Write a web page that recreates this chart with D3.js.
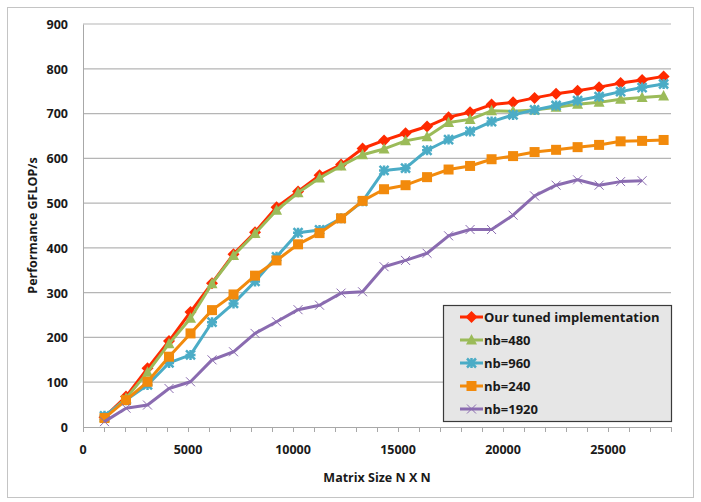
<!DOCTYPE html>
<html>
<head>
<meta charset="utf-8">
<script src="https://cdn.jsdelivr.net/npm/d3@7"></script>
<style>
  body { margin: 0; background: #fff; }
  text { font-family: "Open Sans", sans-serif; font-weight: bold; fill: #1a1a1a; }
</style>
</head>
<body>
<div id="chart"></div>
<script>
// frame dimensions
const FRAME_WIDTH = 701;
const FRAME_HEIGHT = 502;
const MARGINS = {left: 83, right: 30, top: 24, bottom: 75};
const VIS_WIDTH = FRAME_WIDTH - MARGINS.left - MARGINS.right;
const VIS_HEIGHT = FRAME_HEIGHT - MARGINS.top - MARGINS.bottom;

// data
const sizes = [1024, 2048, 3072, 4096, 5120, 6144, 7168, 8192, 9216, 10240, 11264, 12288, 13312, 14336,
  15360, 16384, 17408, 18432, 19456, 20480, 21504, 22528, 23552, 24576, 25600, 26624, 27648];
const tuned = [22, 68, 131, 192, 257, 321, 386, 435, 491, 526, 562, 586, 622, 640, 656, 671, 692, 703, 720, 725, 735, 744, 751, 759, 768, 775, 783];
const nb480 = [22, 64, 122, 186, 243, 320, 383, 432, 484, 523, 556, 583, 608, 621, 639, 648, 680, 687, 706, 705, 708, 714, 721, 725, 732, 736, 739];
const nb960 = [25, 60, 94, 143, 161, 234, 276, 325, 380, 434, 440, 466, 504, 573, 578, 618, 642, 660, 682, 697, 708, 718, 729, 738, 749, 758, 766];
const nb240 = [20, 60, 101, 157, 209, 261, 296, 338, 372, 408, 433, 466, 505, 531, 540, 558, 575, 583, 598, 605, 614, 619, 625, 630, 638, 639, 641];
const nb1920 = [12, 42, 49, 86, 101, 150, 168, 209, 235, 262, 272, 299, 302, 358, 372, 388, 427, 441, 441, 473, 516, 540, 552, 540, 548, 550];

const seriesNames = ['Our tuned implementation', 'nb=480', 'nb=960', 'nb=240', 'nb=1920'];
const seriesValues = [tuned, nb480, nb960, nb240, nb1920];
const seriesColors = ['#ff2a00', '#9bbb59', '#4bacc6', '#f28a0c', '#8a6bb0'];
const seriesMarkers = ['diamond', 'triangle', 'star', 'square', 'cross'];

const yTicks = [0, 100, 200, 300, 400, 500, 600, 700, 800, 900];
const xTicks = [0, 5000, 10000, 15000, 20000, 25000];

const FRAME = d3.select('#chart')
  .append('svg')
    .attr('width', FRAME_WIDTH)
    .attr('height', FRAME_HEIGHT);

// chart border
FRAME.append('rect')
  .attr('x', 7.5).attr('y', 7.5)
  .attr('width', 686).attr('height', 490)
  .attr('fill', '#fff')
  .attr('stroke', '#c4c4c4');

const xscale = d3.scaleLinear().domain([0, 28000]).range([0, VIS_WIDTH]);
const yscale = d3.scaleLinear().domain([0, 900]).range([VIS_HEIGHT, 0]);

const plot = FRAME.append('g')
  .attr('transform', 'translate(' + MARGINS.left + ',' + MARGINS.top + ')');

// gridlines
plot.append('g')
  .selectAll('line')
  .data(yTicks.slice(1))
  .enter().append('line')
    .attr('x1', 0).attr('x2', VIS_WIDTH)
    .attr('y1', (d) => yscale(d)).attr('y2', (d) => yscale(d))
    .attr('stroke', '#b5b5b5').attr('stroke-width', 1.2);

// y axis
const yAxis = plot.append('g')
  .call(d3.axisLeft(yscale).tickValues(yTicks).tickSize(0).tickPadding(15));
yAxis.select('.domain').attr('stroke', '#a8a8a8');
yAxis.selectAll('text').attr('font-size', '12.5px').attr('dy', '0.35em');

// x axis
const xAxis = plot.append('g')
  .attr('transform', 'translate(0,' + VIS_HEIGHT + ')')
  .call(d3.axisBottom(xscale).ticks(28).tickSize(5).tickFormat(''));
xAxis.select('.domain').attr('stroke', '#a8a8a8');
xAxis.selectAll('line').attr('stroke', '#a8a8a8');

plot.append('g')
  .attr('transform', 'translate(0,' + VIS_HEIGHT + ')')
  .selectAll('text')
  .data(xTicks)
  .enter().append('text')
    .attr('x', (d) => xscale(d))
    .attr('y', 27)
    .attr('text-anchor', 'middle')
    .attr('font-size', '12.5px')
    .text((d) => d);

// axis titles
FRAME.append('text')
  .attr('x', MARGINS.left + VIS_WIDTH / 2)
  .attr('y', 482)
  .attr('text-anchor', 'middle')
  .attr('font-size', '12.5px')
  .text('Matrix Size N X N');

FRAME.append('text')
  .attr('transform', 'translate(37,' + (MARGINS.top + VIS_HEIGHT / 2) + ') rotate(-90)')
  .attr('text-anchor', 'middle')
  .attr('font-size', '12.5px')
  .text('Performance GFLOP/s');

// marker drawing
function drawMarker(g, type, color) {
  if (type == 'diamond') {
    g.append('path').attr('d', 'M0,-6L6,0L0,6L-6,0Z').attr('fill', color);
  } else if (type == 'triangle') {
    g.append('path').attr('d', 'M0,-6L5.5,4.5L-5.5,4.5Z').attr('fill', color);
  } else if (type == 'square') {
    g.append('rect').attr('x', -5).attr('y', -5).attr('width', 10).attr('height', 10).attr('fill', color);
  } else if (type == 'star') {
    g.append('path').attr('d', 'M-4.5,-4.5L4.5,4.5M-4.5,4.5L4.5,-4.5M0,-5L0,5M-5,0L5,0')
      .attr('stroke', color).attr('stroke-width', 2.5);
  } else if (type == 'cross') {
    g.append('path').attr('d', 'M-4.5,-4.5L4.5,4.5M-4.5,4.5L4.5,-4.5')
      .attr('stroke', color).attr('stroke-width', 1);
  }
}

// lines and markers
const line = d3.line()
  .x((d) => xscale(d[0]))
  .y((d) => yscale(d[1]));

seriesValues.forEach((vals, i) => {
  const pts = vals.map((v, j) => [sizes[j], v]);
  plot.append('path')
    .datum(pts)
    .attr('d', line)
    .attr('fill', 'none')
    .attr('stroke', seriesColors[i])
    .attr('stroke-width', 3)
    .attr('stroke-linejoin', 'round');
  plot.append('g')
    .selectAll('g')
    .data(pts)
    .enter().append('g')
      .attr('transform', (d) => 'translate(' + xscale(d[0]) + ',' + yscale(d[1]) + ')')
      .each(function() { drawMarker(d3.select(this), seriesMarkers[i], seriesColors[i]); });
});

// legend
const legend = FRAME.append('g').attr('transform', 'translate(443,305)');
legend.append('rect')
  .attr('x', 0.5).attr('y', 0.5)
  .attr('width', 228).attr('height', 116)
  .attr('fill', '#e6e6e6')
  .attr('stroke', '#3a3a3a').attr('stroke-width', 1.2);

seriesNames.forEach((name, i) => {
  const row = legend.append('g').attr('transform', 'translate(0,' + (12 + i * 23) + ')');
  row.append('line')
    .attr('x1', 17).attr('x2', 40)
    .attr('stroke', seriesColors[i]).attr('stroke-width', 3);
  const m = row.append('g').attr('transform', 'translate(28.5,0)');
  drawMarker(m, seriesMarkers[i], seriesColors[i]);
  row.append('text')
    .attr('x', 41)
    .attr('dy', '0.35em')
    .attr('font-size', '13px')
    .text(name);
});
</script>
</body>
</html>
